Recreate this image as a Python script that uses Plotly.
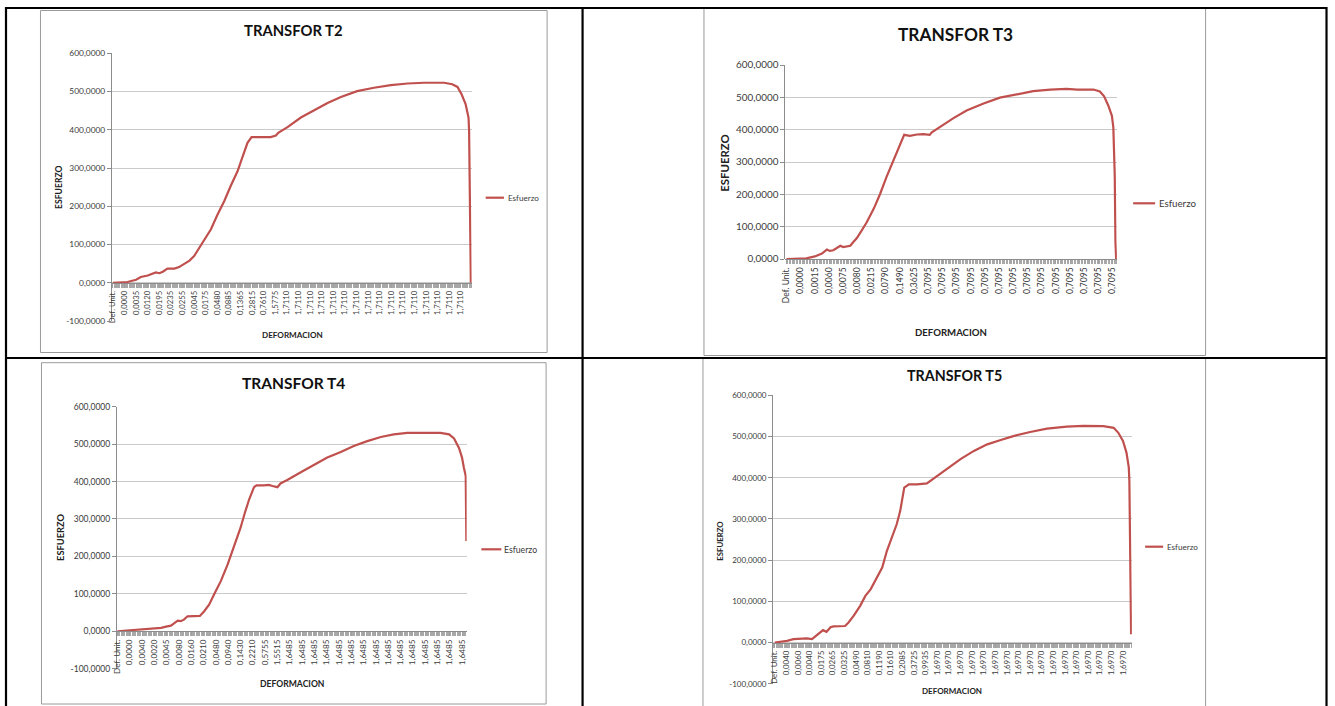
import plotly.graph_objects as go

W, H = 1335, 706

# ---------------- data ----------------
series_name = "Esfuerzo"
y_tick_values = [-100, 0, 100, 200, 300, 400, 500, 600]
y_tick_text = ["-100,0000", "0,0000", "100,0000", "200,0000", "300,0000",
               "400,0000", "500,0000", "600,0000"]
y_tick_values_t3 = [0, 100, 200, 300, 400, 500, 600]
y_tick_text_t3 = ["0,0000", "100,0000", "200,0000", "300,0000",
                  "400,0000", "500,0000", "600,0000"]
categories_per_label = 20

# T2
t2_labels = ["Def. Unit.", "0,0000", "0,0035", "0,0120", "0,0195", "0,0235", "0,0255",
             "0,0045", "0,0175", "0,0480", "0,0885", "0,1365", "0,2815", "0,7610",
             "1,5775"] + ["1,7110"] * 16
t2_cat = [0, 25, 40, 48, 60, 68, 74, 80, 86, 94, 106, 114, 123, 132, 140, 149, 157, 169,
          180, 192, 203, 215, 223, 232, 239, 249, 272, 281, 285, 301, 324, 347, 370, 393,
          421, 450, 479, 508, 536, 571, 585, 594, 601, 608, 613, 614, 615, 616, 617]
t2_esf = [0, 2, 8, 15, 19, 24, 27, 25, 29, 37, 37, 41, 50, 58, 70, 92, 111, 140, 177, 214,
          253, 292, 327, 366, 381, 381, 381, 385, 392, 407, 432, 451, 470, 486, 501, 510,
          517, 521, 523, 523, 519, 512, 493, 467, 432, 397, 275, 100, 0]

# T3
t3_labels = ["Def. Unit.", "0,0000", "0,0015", "0,0060", "0,0075", "0,0080", "0,0215",
             "0,0790", "0,1490", "0,3625"] + ["0,7095"] * 14
t3_cat = [0, 19, 28, 40, 50, 57, 61, 66, 71, 76, 80, 90, 94, 99, 106, 113, 123, 132, 141,
          148, 153, 160, 166, 174, 184, 193, 202, 205, 217, 235, 254, 278, 301, 325, 348,
          372, 395, 410, 433, 442, 448, 454, 459, 461, 463, 464, 465]
t3_esf = [0, 0, 2, 8, 17, 29, 25, 27, 33, 41, 37, 41, 52, 64, 88, 113, 155, 201, 253, 289,
          320, 356, 384, 381, 385, 386, 384, 392, 409, 435, 459, 481, 499, 510, 519, 524,
          526, 524, 524, 518, 503, 474, 443, 407, 258, 52, 0]

# T4
t4_labels = ["Def. Unit.", "0,0000", "0,0040", "0,0020", "0,0045", "0,0080", "0,0160",
             "0,0210", "0,0480", "0,0940", "0,1430", "0,2210", "0,5755",
             "1,5515"] + ["1,6485"] * 15
t4_cat = [0, 17, 38, 60, 71, 79, 87, 92, 98, 103, 108, 114, 125, 134, 141, 149, 157, 168,
          179, 190, 200, 207, 214, 222, 226, 238, 246, 252, 260, 265, 276, 298, 320, 341,
          363, 384, 406, 428, 449, 471, 498, 525, 539, 547, 555, 560, 563, 566, 567]
t4_esf = [0, 2, 4.5, 8, 9, 12.5, 15, 21, 28.5, 27, 31, 40, 40, 41, 53.5, 71, 98, 134, 178,
          227, 276, 316, 352, 385, 390, 390, 391, 388, 385, 395, 404, 425, 446, 464, 479,
          495, 508, 519, 526, 530, 530, 530, 526, 515, 490, 464, 437, 415, 241]

# T5
t5_labels = ["Def. Unit.", "0,0040", "0,0060", "0,0040", "0,0175", "0,0265", "0,0325",
             "0,0490", "0,0810", "0,1190", "0,1610", "0,2085", "0,3725",
             "0,9935"] + ["1,6970"] * 17
t5_cat = [0, 9, 21, 32, 44, 55, 64, 73, 83, 89, 96, 101, 113, 121, 127, 136, 147, 156, 165,
          176, 185, 193, 202, 210, 216, 223, 231, 245, 262, 268, 279, 297, 320, 343, 366,
          388, 411, 440, 469, 503, 532, 566, 584, 592, 600, 606, 610, 611, 612, 613, 614]
t5_esf = [0, 1.6, 4, 8, 10, 10, 8, 18, 30, 26, 37, 39, 39, 40, 48.5, 65, 89, 113, 129, 158,
          182, 222, 259, 287, 319, 376, 384, 384, 386, 392, 404, 422, 445, 465, 481, 491,
          501, 511, 519, 524, 526, 525, 521, 509, 489, 461, 425, 392, 279, 117, 20]

# ---------------- styling / layout ----------------
FONT = "Lato, 'Open Sans', sans-serif"
RED = "#c0504d"
GRID = "#cacaca"
AXIS = "#8c8c8c"
TXT = "#3a3a3a"

# calibration of the photographed page (measured from a test frame)
V_OFF, V_SCALE = 6.0, 0.983
H_OFF, H_SCALE = 4.0, 0.997


def X(px):
    return ((px - H_OFF) / H_SCALE) / W


def Y(py):
    return 1 - ((py - V_OFF) / V_SCALE) / H


panels = [
    dict(title="TRANSFOR T2", cat=t2_cat, val=t2_esf, labels=t2_labels,
         yv=y_tick_values, yt=y_tick_text, yr=(-100, 600),
         plot=(111, 52.3, 471, 320), xr=(-1.7, 618.4),
         box=(39.5, 9.5, 546.5, 351.5), tpos=(292.3, 29, 14.8),
         ytitle=(58, 186, 8.6), xtitle=(291.7, 333.5, 8.1),
         leg=(485, 503.3, 196.7, 505, 8.1), ytick=8.4, xtick=7.7),
    dict(title="TRANSFOR T3", cat=t3_cat, val=t3_esf, labels=t3_labels,
         yv=y_tick_values_t3, yt=y_tick_text_t3, yr=(0, 600),
         plot=(785, 64, 1116.7, 258), xr=(-1.5, 466),
         box=(703.5, 7, 1205.5, 354.5), tpos=(955.3, 33, 17.3),
         ytitle=(724, 161.3, 11.4), xtitle=(950.7, 331.3, 9.6),
         leg=(1133, 1155, 202.3, 1156.7, 9.7), ytick=9.9, xtick=8.5),
    dict(title="TRANSFOR T4", cat=t4_cat, val=t4_esf, labels=t4_labels,
         yv=y_tick_values, yt=y_tick_text, yr=(-100, 600),
         plot=(116, 405.7, 466, 667.7), xr=(-0.8, 567.5),
         box=(40.5, 361.7, 545.5, 703), tpos=(293, 381.7, 15.5),
         ytitle=(59.3, 536.7, 9.3), xtitle=(291.7, 682.7, 8.6),
         leg=(480.7, 500.7, 548.3, 501.7, 8.7), ytick=8.5, xtick=8.2),
    dict(title="TRANSFOR T5", cat=t5_cat, val=t5_esf, labels=t5_labels,
         yv=y_tick_values, yt=y_tick_text, yr=(-100, 600),
         plot=(772.7, 394.3, 1131.7, 682.7), xr=(-3, 615.3),
         box=(702.5, 357.5, 1205.5, 712), tpos=(954, 374.3, 14.3),
         ytitle=(719.3, 540, 7.8), xtitle=(951.7, 690, 8.0),
         leg=(1145, 1163, 545.7, 1165, 8.1), ytick=8.0, xtick=7.9),
]

fig = go.Figure()
layout = dict(
    width=W, height=H, margin=dict(l=0, r=0, t=0, b=0),
    paper_bgcolor="white", plot_bgcolor="white", showlegend=False,
    font=dict(family=FONT, color=TXT),
)
shapes = []
annotations = []

for i, p in enumerate(panels, start=1):
    sfx = "" if i == 1 else str(i)
    x0, ytop, x1, ybot = p["plot"]
    ydom = [max(0.0, Y(ybot)), min(1.0, Y(ytop))]
    ymin, ymax = p["yr"]
    zero_pos = ydom[0] + (0 - ymin) / (ymax - ymin) * (ydom[1] - ydom[0])
    fig.add_trace(go.Scatter(
        x=p["cat"], y=p["val"], mode="lines", name=series_name,
        line=dict(color=RED, width=2.2), xaxis="x" + sfx, yaxis="y" + sfx,
        hoverinfo="x+y",
    ))
    tickvals = [k * categories_per_label for k in range(len(p["labels"]))]
    layout["xaxis" + sfx] = dict(
        domain=[max(0.0, X(x0)), min(1.0, X(x1))], range=list(p["xr"]),
        anchor="free", position=zero_pos,
        tickmode="array", tickvals=tickvals, ticktext=p["labels"], tickangle=-90,
        tickfont=dict(size=p["xtick"], color=TXT, family=FONT),
        showgrid=False, zeroline=False, showline=True, linecolor=AXIS, linewidth=1,
        ticks="outside", ticklen=4, tickcolor="#a0a0a0", tickwidth=1,
        minor=dict(tickmode="linear", tick0=0, dtick=2, ticks="outside", ticklen=4,
                   tickcolor="#a8a8a8", tickwidth=1, showgrid=False),
        fixedrange=True,
    )
    layout["yaxis" + sfx] = dict(
        domain=ydom, range=[ymin, ymax], anchor="x" + sfx,
        tickmode="array", tickvals=p["yv"], ticktext=p["yt"],
        tickfont=dict(size=p["ytick"], color=TXT, family=FONT),
        showgrid=True, gridcolor=GRID, gridwidth=1, zeroline=False,
        showline=True, linecolor=AXIS, linewidth=1,
        ticks="outside", ticklen=4, tickcolor=AXIS, fixedrange=True,
    )
    bx0, by0, bx1, by1 = p["box"]
    shapes.append(dict(type="rect", xref="paper", yref="paper",
                       x0=X(bx0), x1=X(bx1), y0=Y(by1), y1=Y(by0),
                       line=dict(color="#9a9a9a", width=1), layer="below"))
    tx, ty, ts = p["tpos"]
    annotations.append(dict(text="<b>%s</b>" % p["title"], x=X(tx), y=Y(ty),
                            xref="paper", yref="paper", showarrow=False,
                            xanchor="center", yanchor="middle",
                            font=dict(size=ts, color="#111111", family=FONT)))
    yx, yy, ys = p["ytitle"]
    annotations.append(dict(text="<b>ESFUERZO</b>", x=X(yx), y=Y(yy), textangle=-90,
                            xref="paper", yref="paper", showarrow=False,
                            xanchor="center", yanchor="middle",
                            font=dict(size=ys, color="#222222", family=FONT)))
    xx, xy, xs = p["xtitle"]
    annotations.append(dict(text="<b>DEFORMACION</b>", x=X(xx), y=Y(xy),
                            xref="paper", yref="paper", showarrow=False,
                            xanchor="center", yanchor="middle",
                            font=dict(size=xs, color="#222222", family=FONT)))
    lx0, lx1, ly, ltx, lsz = p["leg"]
    shapes.append(dict(type="line", xref="paper", yref="paper",
                       x0=X(lx0), x1=X(lx1), y0=Y(ly), y1=Y(ly),
                       line=dict(color=RED, width=2.2)))
    annotations.append(dict(text=series_name, x=X(ltx), y=Y(ly),
                            xref="paper", yref="paper", showarrow=False,
                            xanchor="left", yanchor="middle",
                            font=dict(size=lsz, color=TXT, family=FONT)))

# table grid lines (document table around the four charts)
for (ax0, ay0, ax1, ay1) in [(4, 7, 1327, 7), (4, 357, 1327, 357),
                             (5, 6, 5, 712), (582, 6, 582, 712), (1326.5, 6, 1326.5, 712)]:
    shapes.append(dict(type="line", xref="paper", yref="paper",
                       x0=X(ax0), x1=X(ax1), y0=Y(ay0), y1=Y(ay1),
                       line=dict(color="black", width=2.2)))

layout["shapes"] = shapes
layout["annotations"] = annotations
fig.update_layout(**layout)

pin_script = (
    "document.documentElement.style.margin='0';"
    "document.documentElement.style.overflow='hidden';"
    "document.body.style.margin='0';document.body.style.padding='0';"
    "document.body.style.overflow='hidden';"
    "var gd=document.getElementById('{plot_id}');"
    "gd.style.position='fixed';gd.style.left='0px';gd.style.top='0px';"
)
fig.write_html("out.html", config={"displayModeBar": False}, post_script=pin_script)
